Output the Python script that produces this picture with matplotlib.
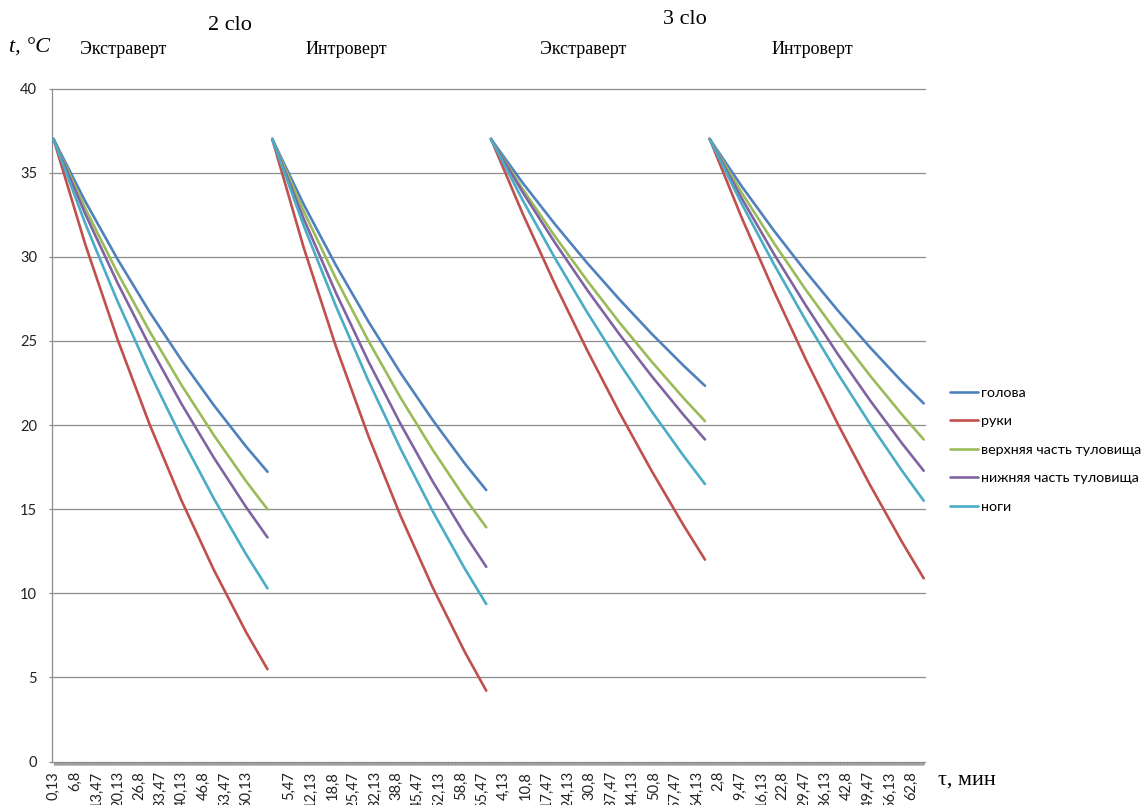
import matplotlib
matplotlib.use("Agg")
import matplotlib.pyplot as plt
from matplotlib.ticker import FixedLocator, FixedFormatter

# Sampled times within each run, minutes
time_min = [0.13, 10, 20, 30, 40, 50, 60, 66.67]

part_names = ["голова", "руки", "верхняя часть туловища",
              "нижняя часть туловища", "ноги"]
part_colors = ["#4F81BD", "#C0504D", "#9BBB59", "#8064A2", "#4BACC6"]

# Body-part temperatures, °C, at the sampled times
clo2_extravert = {
    "голова": [37, 33.29, 29.87, 26.72, 23.83, 21.17, 18.72, 17.22],
    "руки": [37, 30.74, 25.11, 20.04, 15.48, 11.38, 7.69, 5.48],
    "верхняя часть туловища": [37, 32.87, 29.06, 25.57, 22.35, 19.39, 16.66, 14.99],
    "нижняя часть туловища": [37, 32.55, 28.46, 24.70, 21.23, 18.05, 15.12, 13.32],
    "ноги": [37, 31.98, 27.37, 23.12, 19.22, 15.62, 12.32, 10.29],
}
clo2_introvert = {
    "голова": [37, 33.08, 29.47, 26.16, 23.10, 20.30, 17.71, 16.13],
    "руки": [37, 30.49, 24.63, 19.36, 14.61, 10.35, 6.51, 4.21],
    "верхняя часть туловища": [37, 32.67, 28.68, 25.01, 21.63, 18.53, 15.67, 13.92],
    "нижняя часть туловища": [37, 32.22, 27.83, 23.79, 20.07, 16.65, 13.50, 11.57],
    "ноги": [37, 31.81, 27.03, 22.64, 18.60, 14.88, 11.46, 9.36],
}
clo3_extravert = {
    "голова": [37, 34.39, 31.94, 29.64, 27.48, 25.44, 23.53, 22.33],
    "руки": [37, 32.56, 28.38, 24.46, 20.77, 17.30, 14.04, 12.00],
    "верхняя часть туловища": [37, 34.02, 31.22, 28.59, 26.11, 23.79, 21.60, 20.23],
    "нижняя часть туловища": [37, 33.83, 30.84, 28.04, 25.41, 22.93, 20.60, 19.14],
    "ноги": [37, 33.36, 29.93, 26.71, 23.69, 20.84, 18.17, 16.49],
}
clo3_introvert = {
    "голова": [37, 34.21, 31.58, 29.12, 26.80, 24.61, 22.56, 21.28],
    "руки": [37, 32.36, 28.00, 23.90, 20.05, 16.43, 13.02, 10.89],
    "верхняя часть туловища": [37, 33.83, 30.84, 28.04, 25.41, 22.93, 20.60, 19.14],
    "нижняя часть туловища": [37, 33.50, 30.20, 27.11, 24.20, 21.46, 18.89, 17.28],
    "ноги": [37, 33.18, 29.59, 26.22, 23.04, 20.06, 17.26, 15.50],
}
runs = [clo2_extravert, clo2_introvert, clo3_extravert, clo3_introvert]

clo_titles = ["2 clo", "3 clo"]
type_titles = ["Экстраверт", "Интроверт", "Экстраверт", "Интроверт"]

# Category axis: each run occupies a block of 8-second steps,
# 500 filled steps followed by blank categories
step_min = 2 / 15
block = 510
n_data = 500
n_cat = block * (len(runs) - 1) + n_data


def cat_index(run, t):
    return run * block + round(t / step_min) - 1


W, H = 1141, 805
fig = plt.figure(figsize=(W / 100, H / 100), dpi=100)
x_left, x_right = 51.7, 924.5
y_top, y_bottom = 88.5, 761.5
ax = fig.add_axes([x_left / W, 1 - y_bottom / H,
                   (x_right - x_left) / W, (y_bottom - y_top) / H])

for r, run in enumerate(runs):
    xs = [cat_index(r, t) for t in time_min]
    for name, col in zip(part_names, part_colors):
        ax.plot(xs, run[name], color=col, lw=1.9, solid_capstyle="round",
                solid_joinstyle="round", label=name if r == 0 else None,
                zorder=3)

px_per_cat = (923.7 - 53.5) / (n_cat - 1)
ax.set_xlim(-(53.5 - x_left) / px_per_cat,
            (n_cat - 1) + (x_right - 923.7) / px_per_cat)
ax.set_ylim(0, 40)

# y axis
ax.set_yticks(range(0, 41, 5))
for y in range(5, 41, 5):
    ax.axhline(y, color="#8C8C8C", lw=0.9, zorder=1, clip_on=False)
ax.tick_params(axis="y", length=2.5, width=0.9, color="#8C8C8C", pad=8,
               labelsize=10.5, labelcolor="#222222")
for lab in ax.get_yticklabels():
    lab.set_fontfamily("Lato")

# x axis: tick mark on every category, label every 50th
label_pos, label_txt = [], []
for i in range(0, n_cat, 50):
    k = i % block
    label_pos.append(i)
    if k < n_data:
        t = (k + 1) * step_min
        s = f"{t:.2f}".rstrip("0").rstrip(".").replace(".", ",")
    else:
        s = ""
    label_txt.append(s)
ax.xaxis.set_major_locator(FixedLocator(label_pos))
ax.xaxis.set_major_formatter(FixedFormatter(label_txt))
ax.xaxis.set_minor_locator(FixedLocator(list(range(n_cat))))
ax.tick_params(axis="x", which="both", length=2.5, width=0.5, color="#9A9A9A")
ax.tick_params(axis="x", which="major", pad=4.5, labelsize=10.5,
               labelrotation=90, labelcolor="#222222")
for lab in ax.get_xticklabels():
    lab.set_fontfamily("Lato")
    lab.set_va("top")

for side in ("top", "right"):
    ax.spines[side].set_visible(False)
for side in ("left", "bottom"):
    ax.spines[side].set_color("#8C8C8C")
    ax.spines[side].set_linewidth(0.9)

# Headings
serif = "Liberation Serif"
fig.text(230 / W, 1 - 25 / H, clo_titles[0], fontsize=16, family=serif,
         ha="center", va="center")
fig.text(685 / W, 1 - 20 / H, clo_titles[1], fontsize=16, family=serif,
         ha="center", va="center")
for xc, txt in zip([123, 346, 583, 812], type_titles):
    fig.text(xc / W, 1 - 50 / H, txt, fontsize=13, family=serif,
             ha="center", va="center")
fig.text(30 / W, 1 - 48 / H, "t, °C", fontsize=16, family=serif,
         style="italic", ha="center", va="center")
fig.text(967 / W, 1 - 780 / H, "τ, мин", fontsize=16, family=serif,
         ha="center", va="center")

fig.legend(loc="upper left", bbox_to_anchor=(950 / W, 1 - 387 / H),
           frameon=False, borderpad=0, borderaxespad=0, handlelength=1.95,
           handletextpad=0.25, labelspacing=1.15,
           prop={"family": "Lato", "size": 10.3})

fig.savefig("out.png", dpi=100)
